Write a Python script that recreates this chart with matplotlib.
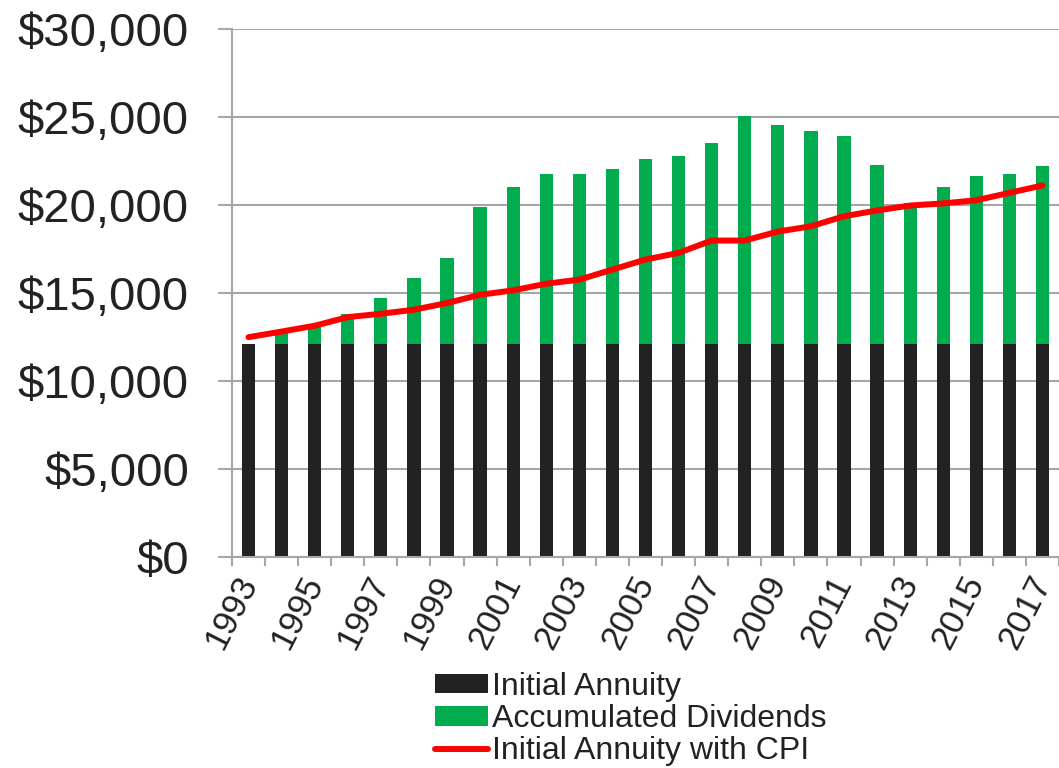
import numpy as np
import matplotlib
matplotlib.use("Agg")
import matplotlib.pyplot as plt
from matplotlib.ticker import FuncFormatter, MultipleLocator
from matplotlib import font_manager

years = list(range(1993, 2018))
initial_annuity = [12100] * 25
total_value = [12100, 12720, 13050, 13820, 14730, 15850, 17010, 19910, 21050, 21740,
               21740, 22060, 22630, 22800, 23500, 25050, 24530, 24200, 23920, 22250,
               20090, 21040, 21660, 21780, 22190]
annuity_cpi = [12490, 12810, 13140, 13630, 13820, 14050, 14430, 14900, 15150, 15530,
               15760, 16330, 16900, 17280, 17980, 17980, 18490, 18790, 19360, 19690,
               19970, 20090, 20270, 20690, 21110]

dividends = [t - a for t, a in zip(total_value, initial_annuity)]

names = {f.name for f in font_manager.fontManager.ttflist}
narrow = "Liberation Sans Narrow" if "Liberation Sans Narrow" in names else "Liberation Sans"
plt.rcParams['font.family'] = ['Liberation Sans', 'DejaVu Sans']

fig = plt.figure(figsize=(10.59, 7.68), dpi=100)
ax = fig.add_axes([232 / 1059, 1 - 557 / 768, 827 / 1059, 528 / 768])

gray = '#a6a6a6'
x = np.arange(len(years))
b1 = ax.bar(x, initial_annuity, width=0.4, color='#222222', label='Initial Annuity', zorder=2)
b2 = ax.bar(x, dividends, width=0.4, bottom=initial_annuity, color='#00ac4e',
            label='Accumulated Dividends', zorder=2)
l1, = ax.plot(x, annuity_cpi, color='#ff0000', linewidth=4.3, solid_capstyle='round',
              solid_joinstyle='round', label='Initial Annuity with CPI', zorder=3)

ax.set_xlim(-0.5, len(years) - 0.5)
ax.set_ylim(0, 30000)
ax.yaxis.set_major_locator(MultipleLocator(5000))
ax.yaxis.set_major_formatter(FuncFormatter(lambda v, p: '${:,.0f}'.format(v)))
ax.grid(axis='y', color=gray, linewidth=1.5, zorder=0)
ax.set_axisbelow(True)

for s in ['top', 'right']:
    ax.spines[s].set_visible(False)
for s in ['left', 'bottom']:
    ax.spines[s].set_color(gray)
    ax.spines[s].set_linewidth(1.5)

ax.tick_params(axis='y', length=10, width=1.5, color=gray, pad=21, labelsize=34,
               labelcolor='#222222')
ax.set_xticks(x[::2])
ax.set_xticklabels([str(y) for y in years[::2]], rotation=63, ha='right',
                   va='center', rotation_mode='anchor', fontsize=25,
                   family=[narrow, 'DejaVu Sans'], color='#222222')
ax.set_xticks(np.arange(-0.5, len(years), 1), minor=True)
ax.tick_params(axis='x', which='major', length=0, pad=15)
ax.tick_params(axis='x', which='minor', length=6.5, width=1.5, color=gray)

leg = ax.legend([b1, b2, l1], ['Initial Annuity', 'Accumulated Dividends', 'Initial Annuity with CPI'],
                loc='upper left', bbox_to_anchor=(435 / 1059, 1 - 672 / 768),
                bbox_transform=fig.transFigure, frameon=False, fontsize=23,
                handlelength=1.65, handleheight=0.55, handletextpad=0.12,
                labelspacing=0.07, borderaxespad=0, borderpad=0)
for t in leg.get_texts():
    t.set_color('#222222')

fig.savefig('out.png', dpi=100)
